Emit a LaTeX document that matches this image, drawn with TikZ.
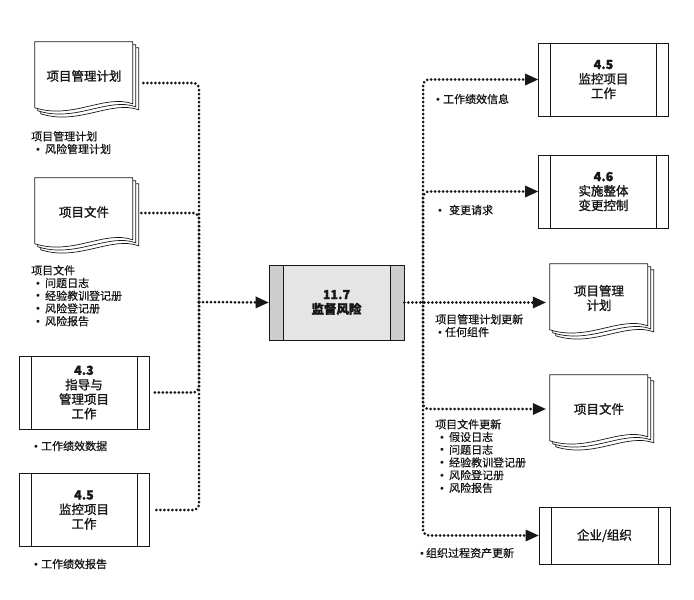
\documentclass[tikz,border=0pt]{standalone}
\usepackage{fontspec}
\setmainfont{Noto Sans CJK SC}
\newfontfamily\boxcjk{Noto Sans CJK SC}[FakeBold=1.3]
\newfontfamily\notecjk{Noto Sans CJK SC}[FakeBold=0.6]
\newfontfamily\symfont{DejaVu Sans}
\usepackage{tikz}
\usetikzlibrary{arrows.meta, calc}
\definecolor{mydark}{RGB}{25,22,22}
\definecolor{boxgray}{RGB}{229,229,229}
\definecolor{stripgray}{RGB}{205,205,205}
\newcommand{\boxfont}{\boxcjk\fontsize{12.5pt}{14.5pt}\selectfont}
\newcommand{\notefont}{\notecjk\fontsize{11pt}{12.7pt}\selectfont}
\newcommand{\bul}{{\symfont\fontsize{10pt}{10pt}\selectfont •}}
\newcommand{\itm}{\hspace*{4pt}\bul\hspace{4pt}}
% three stacked pages with a wavy foot, drawn behind a doc node
\newcommand{\docpages}[1]{%
  \begin{scope}[shift={(#1.north west)}]
    \foreach \s in {6,3,0}
      \draw[docline] (\s,\s+66) -- (\s,\s) -- (\s+98,\s) -- (\s+98,\s+62)
        .. controls (\s+70,\s+52) and (\s+38,\s+78) .. (\s,\s+66) -- cycle;
  \end{scope}}
\tikzset{
  procbox/.style={rectangle, draw=mydark, fill=white, line width=0.8pt,
    minimum width=130pt, minimum height=73pt, align=center, font=\boxfont,
    inner sep=0pt, text=mydark,
    path picture={
      \draw[mydark, line width=0.8pt]
        ([xshift=12pt]path picture bounding box.north west) -- ([xshift=12pt]path picture bounding box.south west)
        ([xshift=-12pt]path picture bounding box.north east) -- ([xshift=-12pt]path picture bounding box.south east);
    }},
  mainbox/.style={rectangle, draw=mydark, fill=boxgray, line width=0.8pt,
    minimum width=135pt, minimum height=75pt, align=center, font=\boxfont\bfseries,
    inner sep=0pt, text=mydark,
    path picture={
      \fill[stripgray] (path picture bounding box.north west) rectangle ([xshift=14pt]path picture bounding box.south west);
      \fill[stripgray] (path picture bounding box.north east) rectangle ([xshift=-14pt]path picture bounding box.south east);
      \draw[mydark, line width=0.8pt]
        ([xshift=14pt]path picture bounding box.north west) -- ([xshift=14pt]path picture bounding box.south west)
        ([xshift=-14pt]path picture bounding box.north east) -- ([xshift=-14pt]path picture bounding box.south east);
    }},
  docnode/.style={rectangle, minimum width=98pt, minimum height=68pt,
    align=center, font=\boxfont, inner sep=0pt, text=mydark},
  docline/.style={draw=mydark, fill=white, line width=0.7pt},
  note/.style={align=left, font=\notefont, inner sep=0pt, text=mydark},
  flow/.style={draw=mydark, line width=3pt, line cap=round,
    dash pattern=on 0pt off 4pt, rounded corners=6pt},
  tip/.style={-{Triangle[length=13pt, width=12pt, line width=0pt]}}
}
\begin{document}
\begin{tikzpicture}[x=1pt, y=-1pt]
  \useasboundingbox (0,0) rectangle (694,600);

  % inputs on the left
  \node[docnode] (pmp) at (84,76) {};
  \docpages{pmp}
  \node[docnode] at (pmp.center) {项目管理计划};
  \node[docnode] (pdocL) at (84,212) {};
  \docpages{pdocL}
  \node[docnode] at (pdocL.center) {项目文件};
  \node[procbox] (p43) at (84,392.5) {\textbf{4.3}\\指导与\\管理项目\\工作};
  \node[procbox] (p45L) at (84,510) {\textbf{4.5}\\监控项目\\工作};

  \node[note, anchor=north west] (lblpmp) at (31,131) {项目管理计划\\\itm 风险管理计划};
  \node[note, anchor=north west] (lbldocL) at (31,265) {项目文件\\\itm 问题日志\\\itm 经验教训登记册\\\itm 风险登记册\\\itm 风险报告};
  \node[note, anchor=west] (lbl43) at (33,446) {\bul\hspace{2pt}工作绩效数据};
  \node[note, anchor=west] (lbl45L) at (33,564) {\bul\hspace{2pt}工作绩效报告};

  % the process
  \node[mainbox] (risk) at (336.5,302.5) {11.7\\监督风险};

  % outputs on the right
  \node[procbox] (p45R) at (603.5,79.5) {\textbf{4.5}\\监控项目\\工作};
  \node[procbox] (p46) at (603.5,191.5) {\textbf{4.6}\\实施整体\\变更控制};
  \node[docnode] (pmpR) at (599,298) {};
  \docpages{pmpR}
  \node[docnode] at (pmpR.center) {项目管理\\计划};
  \node[docnode] (pdocR) at (599,409) {};
  \docpages{pdocR}
  \node[docnode] at (pdocR.center) {项目文件};
  \node[procbox, minimum width=131pt, minimum height=57pt] (org) at (604.5,535.5) {企业/组织};

  \node[note, anchor=west] (lbl45R) at (435,99) {\bul\hspace{2pt}工作绩效信息};
  \node[note, anchor=west] (lbl46) at (437,210) {\bul\hspace{6pt}变更请求};
  \node[note, anchor=north west] (lblpmpR) at (435,314) {项目管理计划更新\\\hspace*{2pt}\bul\hspace{2pt}任何组件};
  \node[note, anchor=north west] (lbldocR) at (435,419) {项目文件更新\\\itm 假设日志\\\itm 问题日志\\\itm 经验教训登记册\\\itm 风险登记册\\\itm 风险报告};
  \node[note, anchor=west] (lblorg) at (419,553) {\bul\hspace{1pt}组织过程资产更新};

  % dotted connectors
  \coordinate (busL) at (199,302);
  \draw[flow] (busL) |- ([xshift=8pt,yshift=-7pt]pmp.east);
  \draw[flow] (busL) |- ([xshift=8pt,yshift=-1pt]pdocL.east);
  \draw[flow] (busL) |- ([xshift=3pt]p43.east);
  \draw[flow] (busL) |- ([xshift=3pt]p45L.east);
  \draw[flow, tip] (busL) -- (risk.west);

  \coordinate (busR) at (423,302);
  \draw[flow, tip] (risk.east) -- ([xshift=-4pt]risk.east -| pmpR.west);
  \draw[flow, tip] (busR) |- (p45R.west);
  \draw[flow, tip] (busR) |- (p46.west);
  \draw[flow, tip] (busR) |- ([xshift=-4pt]pdocR.west);
  \draw[flow, tip] (busR) |- (org.west);
\end{tikzpicture}
\end{document}
